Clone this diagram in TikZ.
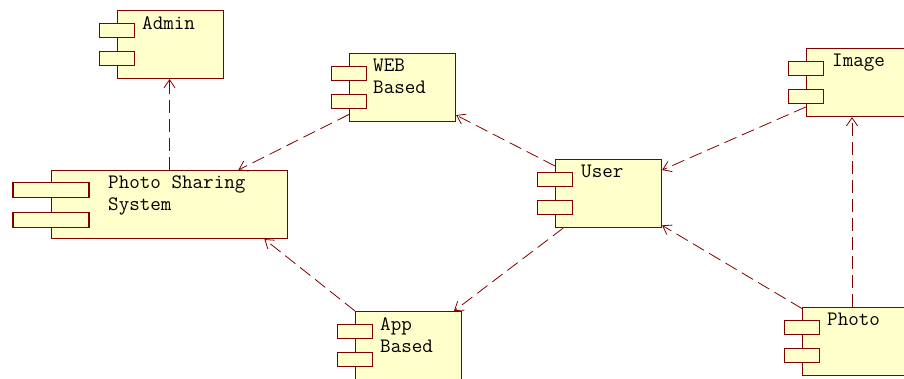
\documentclass[tikz,border=0pt]{standalone}
\usepackage{fontspec}
\usetikzlibrary{arrows.meta,calc}
\definecolor{umlline}{RGB}{128,0,0}
\definecolor{umlfill}{RGB}{255,255,204}
\begin{document}
\begin{tikzpicture}[x=1pt, y=-1pt,
  comp/.style={rectangle, draw=umlline, fill=umlfill, line width=1.1pt, minimum width=106pt, minimum height=68pt, anchor=north west, inner sep=0pt},
  tab/.style={rectangle, draw=umlline, fill=umlfill, line width=1.1pt, minimum width=35pt, minimum height=14pt, inner sep=0pt},
  lbl/.style={anchor=north west, inner sep=0pt, align=left, font=\ttfamily\fontsize{20.5}{22}\selectfont},
  dep/.style={-{Straight Barb[length=8pt, width=11pt]}, draw=umlline, line width=0.8pt, dash pattern=on 13pt off 6pt}
]
\useasboundingbox (0,0) rectangle (904,379);

% Components
\node[comp] (admin) at (117,10) {};
\node[tab] (admin1) at ($(admin.north west)!.3!(admin.south west)$) {};
\node[tab] (admin2) at ($(admin.north west)!.7!(admin.south west)$) {};
\node[lbl] (adminL) at ($(admin.north west)+(25,6)$) {Admin};

\node[comp, minimum width=236pt] (psys) at (51,170) {};
\node[tab, minimum width=76pt, minimum height=15pt] (psys1) at ($(psys.north west)!.29!(psys.south west)$) {};
\node[tab, minimum width=76pt, minimum height=15pt] (psys2) at ($(psys.north west)!.72!(psys.south west)$) {};
\node[lbl] (psysL) at ($(psys.north west)+(57,6)$) {Photo Sharing\\System};

\node[comp] (web) at (349,53) {};
\node[tab] (web1) at ($(web.north west)!.3!(web.south west)$) {};
\node[tab] (web2) at ($(web.north west)!.7!(web.south west)$) {};
\node[lbl] (webL) at ($(web.north west)+(24,6)$) {WEB\\Based};

\node[comp] (user) at (555,159) {};
\node[tab] (user1) at ($(user.north west)!.3!(user.south west)$) {};
\node[tab] (user2) at ($(user.north west)!.7!(user.south west)$) {};
\node[lbl] (userL) at ($(user.north west)+(26,6)$) {User};

\node[comp] (app) at (355,311) {};
\node[tab] (app1) at ($(app.north west)!.3!(app.south west)$) {};
\node[tab] (app2) at ($(app.north west)!.7!(app.south west)$) {};
\node[lbl] (appL) at ($(app.north west)+(25,6)$) {App\\Based};

\node[comp, minimum width=110pt] (image) at (806,48) {};
\node[tab] (image1) at ($(image.north west)!.3!(image.south west)$) {};
\node[tab] (image2) at ($(image.north west)!.7!(image.south west)$) {};
\node[lbl] (imageL) at ($(image.north west)+(26,6)$) {Image};

\node[comp, minimum width=110pt] (photo) at (802,307) {};
\node[tab] (photo1) at ($(photo.north west)!.3!(photo.south west)$) {};
\node[tab] (photo2) at ($(photo.north west)!.7!(photo.south west)$) {};
\node[lbl] (photoL) at ($(photo.north west)+(25,6)$) {Photo};
\coordinate (photoTop) at ($(photo.north west)!.45!(photo.north east)$);

% Dependencies
\draw[dep] (psys.north) -- (psys.north |- admin.south);
\draw[dep] (web) -- (psys);
\draw[dep] (user) -- (web);
\draw[dep] (app.north west) -- ($(psys.south west)!.9!(psys.south east)$);
\draw[dep] (user) -- (app);
\draw[dep] (image) -- (user);
\draw[dep] (photo) -- (user);
\draw[dep] (photoTop) -- (photoTop |- image.south);

\end{tikzpicture}
\end{document}
